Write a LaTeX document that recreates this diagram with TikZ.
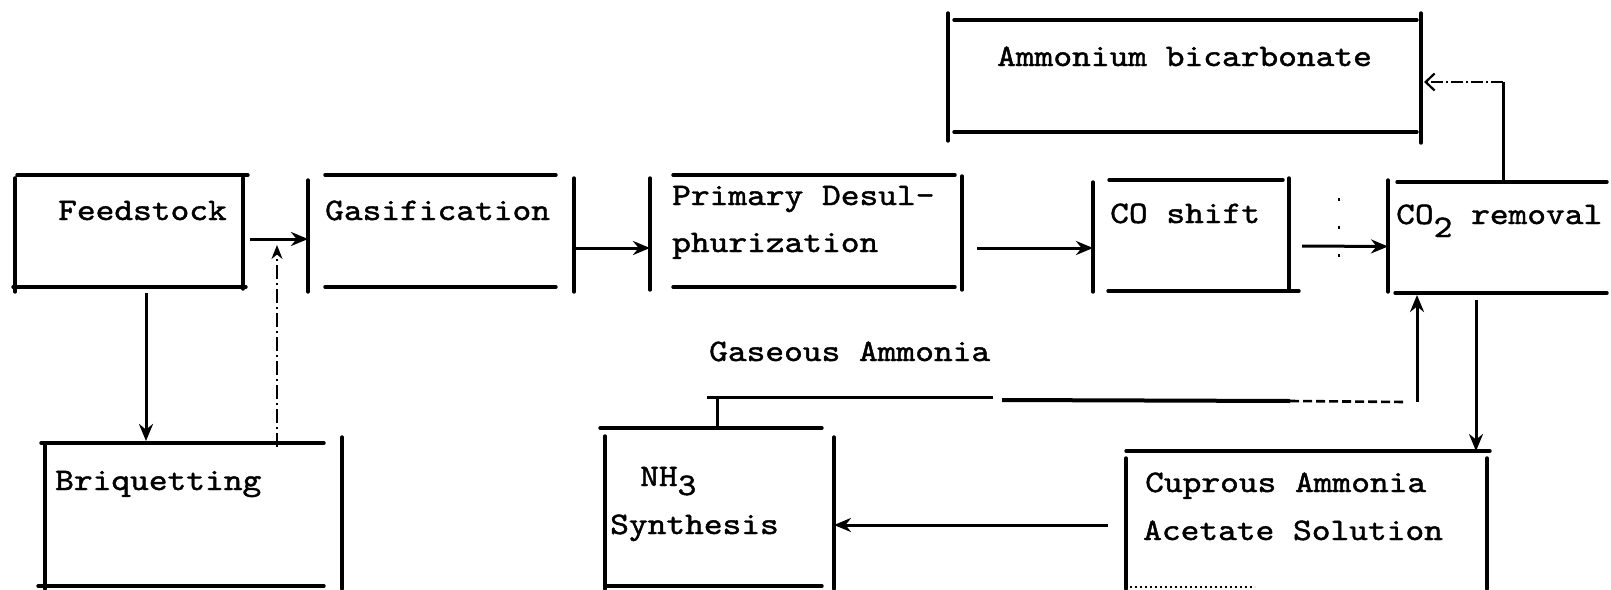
\documentclass[tikz,border=0pt]{standalone}
\usepackage{fontspec}
\newfontfamily\tw{lmmono10-regular.otf}[FakeBold=1.4,FakeStretch=1.14]
\usetikzlibrary{arrows.meta,calc}
\begin{document}
\begin{tikzpicture}[x=1pt,y=-1pt,
  box/.style={rectangle, inner sep=0pt, outer sep=0pt},
  edge/.style={line width=3.4pt, line cap=round},
  txt/.style={anchor=base west, inner sep=0pt, font=\tw\fontsize{31.3}{40}\selectfont},
  conn/.style={line width=3pt},
  arr/.style={line width=3pt, -{Stealth[length=17pt,width=14pt]}},
  barb/.style={line width=2pt, -{Straight Barb[length=9pt,width=17pt,line width=2.2pt]}},
  dd/.style={line width=2pt, dash pattern=on 14pt off 4pt on 2pt off 4pt}]
\useasboundingbox[fill=white] (0,0) rectangle (1611,589);

% boxes (named nodes)
\node[box, minimum width=228pt, minimum height=112pt] (feed)  at (129,231) {};
\node[box, minimum width=266pt, minimum height=112pt] (gas)   at (441,231) {};
\node[box, minimum width=312pt, minimum height=112pt] (prim)  at (806,231) {};
\node[box, minimum width=196pt, minimum height=111pt] (shift) at (1191,235.5) {};
\node[box, minimum width=223pt, minimum height=111pt] (co2)   at (1499.5,237.5) {};
\node[box, minimum width=473pt, minimum height=112pt] (amm)   at (1184.5,76) {};
\node[box, minimum width=297pt, minimum height=146pt] (briq)  at (193.5,516) {};
\node[box, minimum width=229pt, minimum height=161pt] (nh3)   at (719.5,508.5) {};
\node[box, minimum width=361pt, minimum height=144pt] (cup)   at (1306.5,523) {};

% box outlines, typewriter style
\draw[edge] (17,175) -- (248,175) (13,287) -- (246,287) (15,178) -- (15,292) (243,178) -- (243,289);
\draw[edge] (325,175) -- (556,175) (325,287) -- (556,287) (308,180) -- (308,292) (574,178) -- (574,292);
\draw[edge] (673,175) -- (955,175) (673,287) -- (955,287) (650,178) -- (650,290) (962,176) -- (962,290);
\draw[edge] (1109,180) -- (1283,180) (1108,291) -- (1299,291) (1093,182) -- (1093,292) (1289,178) -- (1289,290);
\draw[edge] (1397,182) -- (1607,182) (1395,293) -- (1607,293) (1388,180) -- (1388,292);
\draw[edge] (954,20) -- (1417,20) (954,132) -- (1417,132) (948,13) -- (948,141) (1421,13) -- (1421,143);
\draw[edge] (41,443) -- (324,443) (38,586) -- (324,586) (45,443) -- (45,589) (342,437) -- (342,589);
\draw[edge] (600,428) -- (822,428) (606,586) -- (822,586) (605,436) -- (605,589) (834,437) -- (834,589);
\draw[edge] (1126,451) -- (1490,451) (1126,458) -- (1126,589) (1487,458) -- (1487,589);
\draw[line width=1.4pt, dash pattern=on 2pt off 3pt] (1130,587) -- (1255,587);

% texts
\node[txt] (feedT)  at (58,220)   {Feedstock};
\node[txt] (gasT)   at (325,220)  {Gasification};
\node[txt] (primT1) at (672,205)  {Primary Desul-};
\node[txt] (primT2) at (672,252)  {phurization};
\node[txt] (shiftT) at (1110,223) {CO shift};
\node[txt] (co2T)   at (1396,224) {CO\raisebox{-13pt}{2} removal};
\node[txt] (ammT)   at (997,66)   {Ammonium bicarbonate};
\node[txt] (briqT)  at (55,490)   {Briquetting};
\node[txt] (nh3T1)  at (640,486)  {NH\raisebox{-9pt}{3}};
\node[txt] (nh3T2)  at (610,534)  {Synthesis};
\node[txt] (cupT1)  at (1145,492) {Cuprous Ammonia};
\node[txt] (cupT2)  at (1143,540) {Acetate Solution};
\node[txt] (gasamT) at (709,361)  {Gaseous Ammonia};

% connectors
\coordinate (j1) at (277,239);
\draw[arr] ($(feed.east)+(7,8)$) -- ($(gas.west)+(0,8)$);
\draw[dd, -{Stealth[length=14pt,width=11pt]}] ($(briq.north)+(83.5,4)$) -- ($(j1)+(0,6)$);
\draw[arr] ($(feed.south)+(17,6)$) -- ($(feed.south |- briq.north)+(17,-2)$);
\draw[arr] ($(gas.east)+(0,17)$) -- ($(prim.west)+(0,17)$);
\draw[arr] ($(prim.east)+(15,17)$) -- ($(shift.west)+(0,12.5)$);
\draw[arr] ($(shift.east)+(13,10.5)$) -- ($(co2.west)+(0,9)$);
\draw[line width=2.6pt, dash pattern=on 3pt off 25pt] (1339,198) -- (1339,276);

\coordinate (k1) at (1503,82);
\draw[conn] ($(co2.north)+(3.5,0)$) -- (k1);
\draw[barb, dash pattern=on 12pt off 3pt on 2pt off 3pt] (k1) -- ($(amm.east |- k1)+(3,0)$);

\coordinate (g1) at (717,397);
\coordinate (g2) at (1417,402);
\draw[conn] (nh3.north -| g1) -- (g1);
\draw[conn] (707,397) -- (993,397);
\draw[line width=4pt] (1002,400) -- (1290,401);
\draw[line width=2.6pt, dash pattern=on 9pt off 4pt] (1290,401) -- (1405,402);
\draw[arr] (g2) -- ($(co2.south -| g2)+(0,2)$);

\coordinate (d1) at ($(co2.south)+(-23.5,7)$);
\draw[arr] (d1) -- (d1 |- cup.north);
\draw[arr] ($(cup.west)+(-18,2)$) -- ($(nh3.east)+(0,16.5)$);
\end{tikzpicture}
\end{document}
